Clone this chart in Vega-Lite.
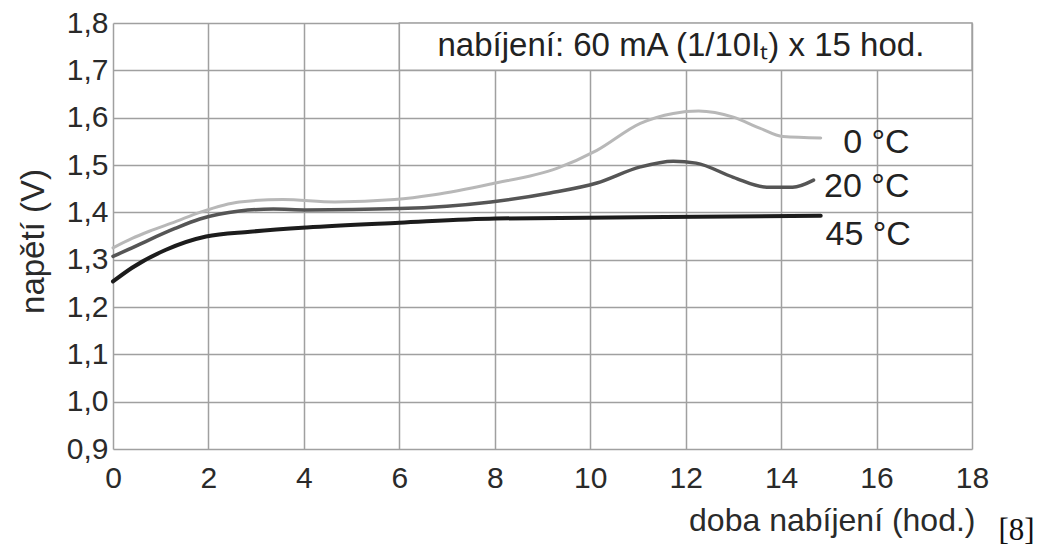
{
  "$schema": "https://vega.github.io/schema/vega-lite/v6.json",
  "width": 859,
  "height": 426,
  "autosize": {"type": "none"},
  "padding": {"left": 113, "top": 23, "right": 70, "bottom": 101},
  "background": "white",
  "config": {"view": {"stroke": null}, "font": "Liberation Sans"},
  "title": {
    "text": "[8]",
    "orient": "bottom",
    "anchor": "end",
    "font": "Liberation Serif",
    "fontSize": 31,
    "fontWeight": "normal",
    "color": "#111",
    "dx": 46,
    "offset": -20
  },
  "datasets": {
    "curves": [
      {"s": "0 °C", "x": 0, "y": 1.325}, {"s": "0 °C", "x": 0.4, "y": 1.345}, {"s": "0 °C", "x": 0.76, "y": 1.36},
      {"s": "0 °C", "x": 1.3, "y": 1.38}, {"s": "0 °C", "x": 1.82, "y": 1.4}, {"s": "0 °C", "x": 2.65, "y": 1.422},
      {"s": "0 °C", "x": 3.56, "y": 1.427}, {"s": "0 °C", "x": 4.65, "y": 1.422}, {"s": "0 °C", "x": 5.9, "y": 1.427},
      {"s": "0 °C", "x": 6.73, "y": 1.437}, {"s": "0 °C", "x": 7.92, "y": 1.46}, {"s": "0 °C", "x": 9.3, "y": 1.493},
      {"s": "0 °C", "x": 10.14, "y": 1.531}, {"s": "0 °C", "x": 11.05, "y": 1.588}, {"s": "0 °C", "x": 11.74, "y": 1.609},
      {"s": "0 °C", "x": 12.27, "y": 1.614}, {"s": "0 °C", "x": 13.0, "y": 1.601}, {"s": "0 °C", "x": 13.55, "y": 1.578},
      {"s": "0 °C", "x": 14.04, "y": 1.56}, {"s": "0 °C", "x": 14.83, "y": 1.557},
      {"s": "20 °C", "x": 0, "y": 1.307}, {"s": "20 °C", "x": 0.4, "y": 1.325}, {"s": "20 °C", "x": 0.76, "y": 1.342},
      {"s": "20 °C", "x": 1.3, "y": 1.366}, {"s": "20 °C", "x": 1.82, "y": 1.386}, {"s": "20 °C", "x": 2.65, "y": 1.403},
      {"s": "20 °C", "x": 3.36, "y": 1.407}, {"s": "20 °C", "x": 4.06, "y": 1.405}, {"s": "20 °C", "x": 6.0, "y": 1.408},
      {"s": "20 °C", "x": 7.92, "y": 1.422}, {"s": "20 °C", "x": 9.16, "y": 1.441}, {"s": "20 °C", "x": 10.14, "y": 1.462},
      {"s": "20 °C", "x": 11.05, "y": 1.496}, {"s": "20 °C", "x": 11.74, "y": 1.508}, {"s": "20 °C", "x": 12.22, "y": 1.504},
      {"s": "20 °C", "x": 13.0, "y": 1.474}, {"s": "20 °C", "x": 13.7, "y": 1.453}, {"s": "20 °C", "x": 14.24, "y": 1.453},
      {"s": "20 °C", "x": 14.68, "y": 1.468},
      {"s": "45 °C", "x": 0, "y": 1.254}, {"s": "45 °C", "x": 0.4, "y": 1.283}, {"s": "45 °C", "x": 1.11, "y": 1.321},
      {"s": "45 °C", "x": 1.95, "y": 1.349}, {"s": "45 °C", "x": 2.87, "y": 1.359}, {"s": "45 °C", "x": 4.06, "y": 1.368},
      {"s": "45 °C", "x": 6.0, "y": 1.378}, {"s": "45 °C", "x": 8.02, "y": 1.387}, {"s": "45 °C", "x": 11.57, "y": 1.39},
      {"s": "45 °C", "x": 14.83, "y": 1.393}
    ],
    "labels": [
      {"s": "0 °C", "x": 15.3, "y": 1.546},
      {"s": "20 °C", "x": 14.9, "y": 1.453},
      {"s": "45 °C", "x": 14.93, "y": 1.352}
    ],
    "box": [
      {"x": 6, "x2": 18, "y": 1.7, "y2": 1.8, "label": "nabíjení: 60 mA (1/10Iₜ) x 15 hod.", "xc": 11.9, "yc": 1.752}
    ]
  },
  "encoding": {
    "x": {
      "field": "x",
      "type": "quantitative",
      "scale": {"domain": [0, 18], "nice": false, "zero": false},
      "axis": {
        "values": [0, 2, 4, 6, 8, 10, 12, 14, 16, 18],
        "title": "doba nabíjení (hod.)",
        "grid": true,
        "gridColor": "#a0a0a0",
        "gridWidth": 1.5,
        "gridOpacity": 1,
        "domain": false,
        "ticks": false,
        "labelFont": "Liberation Sans",
        "labelFontSize": 30,
        "labelColor": "#2a2a2a",
        "labelPadding": 14,
        "labelFlush": false,
        "titleFont": "Liberation Sans",
        "titleFontSize": 32,
        "titleFontWeight": "normal",
        "titleColor": "#2a2a2a",
        "titleAnchor": null,
        "titleAlign": "right",
        "titleBaseline": "alphabetic",
        "titleX": 862,
        "titleY": 81
      }
    },
    "y": {
      "field": "y",
      "type": "quantitative",
      "scale": {"domain": [0.9, 1.8], "nice": false, "zero": false},
      "axis": {
        "values": [0.9, 1.0, 1.1, 1.2, 1.3, 1.4, 1.5, 1.6, 1.7, 1.8],
        "labelExpr": "replace(format(datum.value, '.1f'), '.', ',')",
        "title": "napětí (V)",
        "grid": true,
        "gridColor": "#a0a0a0",
        "gridWidth": 1.5,
        "gridOpacity": 1,
        "domain": false,
        "ticks": false,
        "labelFont": "Liberation Sans",
        "labelFontSize": 30,
        "labelColor": "#2a2a2a",
        "labelPadding": 5,
        "labelFlush": false,
        "titleFont": "Liberation Sans",
        "titleFontSize": 33,
        "titleFontWeight": "normal",
        "titleColor": "#2a2a2a",
        "titleAnchor": null,
        "titleAngle": -90,
        "titleAlign": "center",
        "titleBaseline": "middle",
        "titleX": -80,
        "titleY": 218
      }
    }
  },
  "layer": [
    {
      "data": {"name": "box"},
      "mark": {"type": "rect", "fill": "white", "stroke": "#a0a0a0", "strokeWidth": 1.5},
      "encoding": {"x2": {"field": "x2"}, "y2": {"field": "y2"}}
    },
    {
      "data": {"name": "box"},
      "mark": {"type": "text", "fontSize": 33, "color": "#222", "align": "center", "baseline": "middle", "font": "Liberation Sans"},
      "encoding": {
        "x": {"field": "xc", "type": "quantitative"},
        "y": {"field": "yc", "type": "quantitative"},
        "text": {"field": "label"}
      }
    },
    {
      "data": {"name": "curves"},
      "mark": {"type": "line", "interpolate": "monotone", "strokeCap": "round"},
      "encoding": {
        "color": {
          "field": "s", "type": "nominal",
          "scale": {"domain": ["0 °C", "20 °C", "45 °C"], "range": ["#b8b8b8", "#555555", "#1c1c1c"]},
          "legend": null
        },
        "strokeWidth": {
          "field": "s", "type": "nominal",
          "scale": {"domain": ["0 °C", "20 °C", "45 °C"], "range": [3, 4, 4.5]},
          "legend": null
        },
        "detail": {"field": "s"}
      }
    },
    {
      "data": {"name": "labels"},
      "mark": {"type": "text", "fontSize": 34, "color": "#222", "align": "left", "baseline": "middle", "font": "Liberation Sans"},
      "encoding": {"text": {"field": "s"}}
    }
  ]
}
